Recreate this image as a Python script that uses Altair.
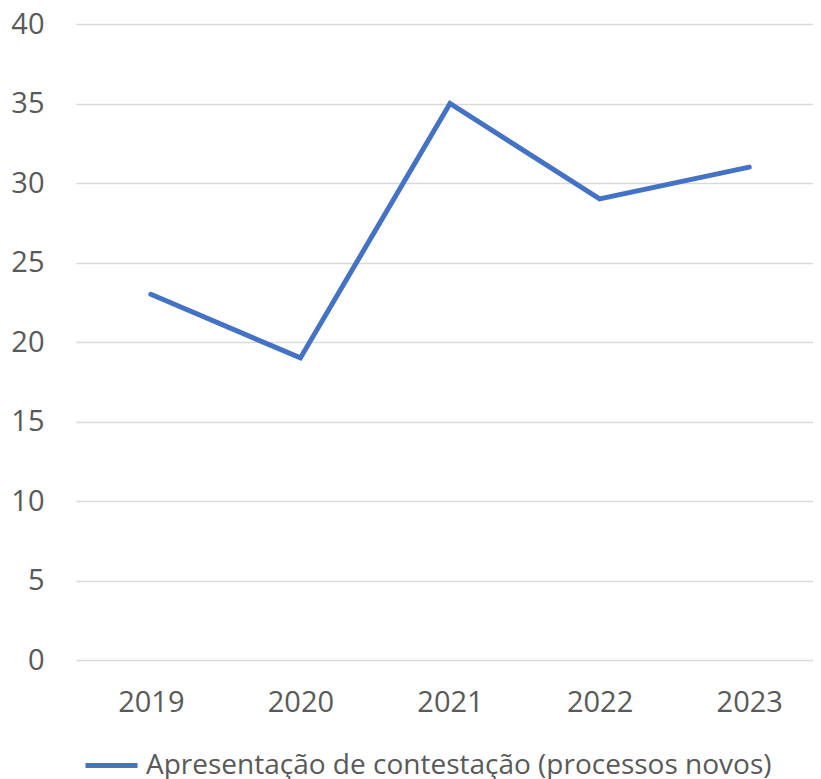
import altair as alt
import pandas as pd

years = ["2019", "2020", "2021", "2022", "2023"]
values = [23, 19, 35, 29, 31]
series_name = "Apresentação de contestação (processos novos)"
y_ticks = [0, 5, 10, 15, 20, 25, 30, 35, 40]

df = pd.DataFrame({"year": years, "value": values, "series": [series_name] * len(years)})

FONT = "Open Sans"
TXT = "#595959"

chart = alt.Chart(df).mark_line(strokeWidth=5, strokeCap="round", strokeJoin="miter").encode(
    x=alt.X("year:O", title=None, sort=years,
            scale=alt.Scale(range=[0, 748]),
            axis=alt.Axis(domain=False, ticks=False, grid=False, labelAngle=0,
                          labelFontSize=29, labelColor=TXT, labelFont=FONT,
                          labelPadding=28, labelBaseline="top")),
    y=alt.Y("value:Q", title=None,
            scale=alt.Scale(domain=[0, 40], nice=False),
            axis=alt.Axis(values=y_ticks, domain=False, ticks=False, grid=True,
                          gridColor="#D9D9D9", gridWidth=1.3,
                          labelFontSize=29, labelColor=TXT, labelFont=FONT,
                          labelPadding=32)),
    color=alt.Color("series:N", scale=alt.Scale(range=["#4472C4"]),
                    legend=alt.Legend(title=None, orient="none", legendX=7, legendY=713,
                                      symbolType="stroke", symbolStrokeWidth=5,
                                      symbolSize=2704, labelFontSize=28, labelColor=TXT,
                                      labelFont=FONT, labelOffset=6, padding=0,
                                      labelLimit=0)),
).properties(
    width=737, height=636,
    autosize=alt.AutoSizeParams(type="none"),
    padding={"left": 68, "top": 16, "right": 0, "bottom": 120},
).configure(font=FONT).configure_view(stroke="transparent", strokeWidth=0)

chart.save("out.html", embed_options={"renderer": "svg", "actions": False})
